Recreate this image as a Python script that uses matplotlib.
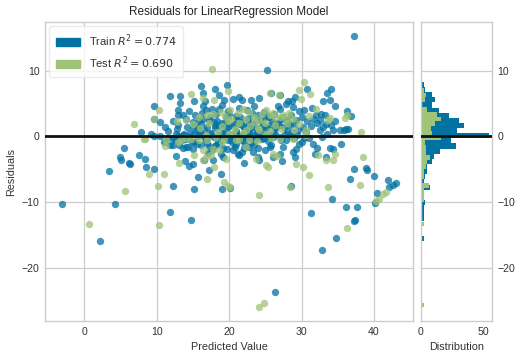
import numpy as np
import matplotlib
matplotlib.use("Agg")
import matplotlib.pyplot as plt
from matplotlib.patches import Patch

plt.rcParams['font.family'] = ['Liberation Sans', 'DejaVu Sans']
plt.rcParams['axes.unicode_minus'] = True

TITLE = "Residuals for LinearRegression Model"
train_r2 = 0.774
test_r2 = 0.690
x_ticks = [0, 10, 20, 30, 40]
y_ticks = [-20, -10, 0, 10]
hist_ticks = [0, 50]

# (predicted value, residual) — training set
train_points = [
    (37.19, 15.30), (25.21, 10.10), (16.13, 7.58), (19.72, 7.73), (18.06, 7.22), (16.36, 6.57),
    (11.80, 6.16), (13.23, 6.16), (15.12, 5.40), (13.27, 5.05), (16.68, 5.30), (18.66, 6.21),
    (19.35, 5.45), (21.43, 5.96), (21.75, 5.56), (23.00, 5.45), (24.19, 5.86), (25.81, 6.57),
    (26.96, 6.21), (28.11, 5.30), (28.66, 5.35), (29.12, 5.96), (30.69, 7.22), (33.50, 6.57),
    (34.10, 7.22), (32.95, 5.35), (33.96, 5.45), (34.65, 4.55), (36.31, 3.84), (36.87, 3.08),
    (9.68, 4.65), (12.90, 3.94), (13.69, 3.18), (15.25, 3.18), (16.82, 4.04), (16.36, 4.65),
    (18.66, 4.19), (21.43, 4.34), (25.12, 3.18), (26.73, 4.55), (28.89, 4.44), (30.32, 3.94),
    (32.03, 3.18), (32.49, 2.42), (32.72, 3.43), (33.41, 1.92), (34.01, 1.77), (36.41, 1.16),
    (35.81, 0.91), (9.68, 2.68), (10.46, 2.17), (7.83, 0.61), (9.22, 0.40), (11.52, 0.81),
    (12.67, 0.40), (13.59, 0.15), (14.98, 1.41), (15.90, 2.42), (15.67, 1.41), (17.28, 2.42),
    (17.97, 2.17), (18.66, 1.52), (19.59, 1.16), (20.28, 1.67), (20.97, 2.42), (21.43, 1.92),
    (22.12, 1.41), (23.04, 1.41), (23.73, 2.42), (24.42, 1.41), (25.58, 1.67), (26.50, 1.41),
    (27.88, 2.42), (28.34, 1.67), (30.18, 1.41), (30.65, 0.66), (32.76, -0.10), (34.33, 0.91),
    (35.25, 0.91), (36.18, 1.06), (9.68, 0.00), (12.21, -0.20), (13.13, -0.10), (14.06, -0.35),
    (16.82, -0.35), (19.59, -0.10), (20.51, 0.15), (22.35, -0.10), (24.19, -0.10), (26.04, -0.10),
    (5.53, -1.77), (4.93, -3.13), (5.07, -3.54), (6.22, -3.99), (6.31, -4.24), (7.51, -2.88),
    (8.43, -3.38), (8.53, -4.65), (9.68, -4.90), (3.46, -5.30), (12.21, -1.36), (12.67, -3.03),
    (14.29, -1.62), (13.13, -1.36), (14.06, -1.62), (14.98, -1.87), (16.13, -1.36), (17.05, -2.53),
    (18.20, -1.36), (18.89, -2.63), (19.12, -3.13), (19.68, -1.87), (20.51, -2.12), (21.20, -2.63),
    (21.43, -2.88), (22.81, -1.62), (23.27, -2.37), (23.96, -3.13), (24.19, -3.64), (25.58, -1.62),
    (26.04, -3.13), (26.96, -2.63), (29.17, -1.87), (29.03, -3.13), (28.89, -2.42), (31.57, -1.21),
    (31.80, -2.63), (33.87, -1.77), (34.33, -1.87), (35.48, -1.11), (33.32, -3.13), (37.19, -5.00),
    (38.94, -4.80), (39.03, -5.15), (40.00, -6.06), (36.73, -6.41), (41.94, -6.67), (43.09, -7.07),
    (42.63, -7.42), (40.46, -8.54), (42.03, -7.68), (15.71, -6.16), (17.28, -5.15), (18.89, -5.66),
    (14.98, -4.14), (14.52, -4.49), (16.59, -3.64), (12.21, -7.53), (15.12, -8.03), (19.03, -7.93),
    (28.57, -7.53), (34.24, -9.55), (20.14, -7.78),
    (-3.13, -10.20), (4.19, -10.20), (2.12, -15.81), (11.80, -11.41), (14.78, -12.63),
    (36.13, -10.66), (37.65, -10.66), (31.29, -11.57), (37.19, -12.83), (37.37, -12.63),
    (34.75, -15.35), (32.81, -17.32), (26.31, -23.69), (40.09, -10.10),
]

# training points inside the dense central cluster (estimated from density and histogram)
train_cluster = [
    (19.0, 0.5), (19.8, -0.5), (20.5, -1.0), (21.0, 0.8), (21.8, -0.6), (22.5, 0.3), (23.2, -0.8),
    (23.8, 0.6), (24.6, -0.4), (25.3, 0.2), (20.2, 0.2), (18.5, -0.8), (17.5, 0.3), (16.0, 0.6),
    (15.2, -0.8), (14.6, 0.5), (21.5, 3.0), (22.8, 2.8), (24.0, 3.3), (19.5, 3.0), (18.0, -1.5),
    (22.0, -1.8), (26.0, 0.5), (27.2, -0.6), (28.0, 0.8), (29.0, -0.3), (20.8, -1.6), (23.5, -1.3),
    (25.0, -2.0), (17.0, -1.0), (16.5, 1.0), (26.8, 2.0), (29.5, 1.0), (31.0, -0.2), (13.5, -0.6),
    (11.0, -0.8), (10.5, 0.1), (18.2, 3.4), (27.5, 3.0), (30.8, 2.3), (21.2, -0.2), (22.2, 0.9),
    (24.9, 1.0), (19.3, 1.9), (17.7, -2.0),
    (20.5, 5.6), (19.0, 4.8), (23.5, 4.6), (27.8, 4.9),
    (14.5, 3.9), (17.6, 4.1), (19.9, 3.8), (22.4, 4.0), (24.8, 3.7), (27.0, 4.2), (29.6, 3.9), (31.5, 4.3),
    (13.0, 3.2), (16.2, 3.5), (17.4, 2.9), (20.0, 3.4), (21.0, 3.1), (23.1, 3.5), (25.5, 2.9),
    (26.2, 3.4), (28.6, 3.2), (30.1, 3.0), (33.2, 3.3),
    (12.2, 2.3), (14.0, 2.6), (15.0, 2.2), (16.4, 2.7), (18.3, 2.4), (19.0, 2.1), (19.8, 2.6),
    (21.6, 2.2), (22.5, 2.7), (23.2, 2.1), (24.3, 2.5), (25.0, 2.8), (25.9, 2.3), (27.1, 2.6),
    (28.2, 2.2), (29.3, 2.5), (31.6, 2.7), (32.2, 2.1), (34.6, 2.4),
    (11.2, 1.5), (13.0, 1.8), (14.2, 1.4), (16.1, 1.9), (17.0, 1.5), (18.0, 1.8), (19.9, 1.4),
    (20.7, 1.9), (21.9, 1.6), (22.7, 1.9), (23.6, 1.5), (24.7, 1.8), (25.2, 1.3), (26.9, 1.7),
    (27.6, 1.4), (29.0, 1.9), (31.3, 1.6), (33.0, 1.4),
    (12.8, 1.1), (15.5, 0.9), (18.1, 1.2), (20.9, 0.7), (22.9, 1.1), (24.0, 0.8), (26.4, 1.2),
    (28.7, 0.6), (32.5, 1.0),
    (11.5, -0.2), (12.9, 0.1), (13.8, 0.4), (14.4, -0.1), (15.1, 0.3), (15.7, 0.0), (16.3, 0.2),
    (16.9, -0.25), (17.3, 0.45), (17.9, -0.15), (18.4, 0.25), (18.8, 0.05), (19.2, 0.35),
    (19.6, -0.2), (20.0, 0.1), (20.4, 0.4), (20.8, -0.1), (21.1, 0.3), (21.5, 0.0), (21.9, 0.2),
    (22.3, -0.25), (22.7, 0.45), (23.0, -0.15), (23.4, 0.25), (23.9, 0.05), (24.4, 0.35),
    (24.8, -0.2), (25.6, 0.1), (26.3, 0.4), (27.0, -0.1), (27.7, 0.3), (28.5, 0.0), (29.4, 0.2),
    (30.4, -0.25), (33.5, 0.4),
    (12.5, -0.5), (14.8, -0.9), (16.6, -0.4), (18.9, -0.7), (20.3, -0.5), (22.0, -0.9),
    (23.7, -0.4), (25.4, -0.7), (27.9, -0.5), (30.0, -0.9),
    (11.8, -1.3), (13.6, -1.7), (15.6, -1.2), (17.2, -1.5), (19.2, -1.8), (20.9, -1.2),
    (22.5, -1.5), (24.0, -1.8), (25.8, -1.3), (27.4, -1.6), (29.7, -1.2), (32.2, -1.7),
    (21.8, -2.3), (13.9, -3.8), (17.8, -3.6), (22.1, -4.0), (27.3, -3.7),
]

# (predicted value, residual) — test set
test_points = [
    (17.60, 10.25), (14.75, 6.36), (16.36, 5.86), (17.97, 5.45), (19.91, 6.82), (25.58, 6.57),
    (26.87, 6.21), (30.32, 8.33), (31.20, 6.46), (29.59, 6.97), (29.95, 5.71), (10.37, 4.04),
    (9.68, 2.68), (6.91, 1.92), (12.76, 2.32), (14.06, 2.42), (14.98, 1.92), (15.90, 2.93),
    (17.74, 3.43), (18.89, 3.69), (20.05, 4.04), (20.28, 2.68), (21.89, 4.19), (22.35, 2.68),
    (22.81, 3.69), (24.19, 2.42), (25.12, 3.94), (25.58, 3.18), (26.27, 2.93), (26.96, 2.93),
    (27.88, 2.68), (28.80, 2.68), (29.72, 1.92), (30.65, 1.01), (32.03, 4.19), (33.64, 2.53),
    (33.87, 2.78), (35.94, 2.78), (36.27, 3.18), (38.25, 0.66), (8.20, -0.35), (8.43, -0.45),
    (11.29, -0.61), (11.20, -1.52), (12.90, -0.86), (14.06, -0.20), (14.75, -0.35), (15.90, -0.61),
    (16.82, 0.15), (18.20, -0.10), (19.35, -0.35), (20.51, 0.40), (21.43, -0.35), (22.35, 0.91),
    (22.81, -0.61), (24.19, 0.91), (25.12, 0.40), (26.96, -0.35), (28.80, -0.35), (30.65, 0.15),
    (16.36, -2.02), (17.74, -1.87), (16.82, -3.13), (17.51, -2.88), (18.66, -2.12), (15.21, -2.88),
    (19.59, -3.38), (22.35, -1.62), (23.73, -3.38), (26.04, -2.63), (26.59, -3.03), (25.12, -4.39),
    (25.35, -4.65), (29.26, -4.14), (30.18, -4.65), (31.01, -5.91), (32.26, -2.78), (33.41, -3.64),
    (34.56, -2.63), (34.33, -3.64), (38.48, -3.13), (8.99, -5.66), (10.97, -5.66), (13.13, -4.04),
    (16.36, -3.64), (17.97, -4.65), (19.35, -6.92), (19.82, -7.53), (20.14, -7.68), (10.14, -7.58),
    (5.62, -8.28), (24.19, -8.94), (28.34, -7.68), (33.64, -7.68), (38.11, -7.42), (41.71, -8.43),
    (41.24, -8.69), (0.60, -13.23), (10.28, -13.38), (36.27, -13.84), (40.65, -9.44), (40.32, -9.80),
    (24.10, -25.96), (24.79, -25.25), (16.90, -6.40),
]

test_cluster = [
    (17.0, 3.3), (19.4, 3.1), (21.2, 3.5), (23.5, 3.0), (24.6, 3.4), (26.0, 3.6), (27.4, 3.2),
    (28.3, 3.5), (31.0, 3.1),
    (16.0, 1.2), (17.2, 2.0), (18.5, 0.6), (19.0, 1.6), (19.8, 2.3), (20.8, 1.1), (21.3, 2.0),
    (21.9, 0.5), (22.9, 1.6), (23.4, 2.2), (24.0, 1.3), (24.9, 2.0), (25.6, 0.8), (26.3, 1.7),
    (27.2, 1.1), (28.0, 2.1), (29.0, 1.0), (20.0, 0.4),
    (17.0, -0.6), (19.0, -0.8), (21.0, -0.5), (23.8, -0.7), (25.8, -0.3), (13.3, -0.5),
]

TRAIN_COLOR = "#0272a2"
TEST_COLOR = "#9fc377"
LINE_COLOR = "#111111"
GRID_COLOR = "#cccccc"
TEXT_COLOR = "#333333"

train = np.array(train_points + train_cluster)
test = np.array(test_points + test_cluster)

fig = plt.figure(figsize=(5.23, 3.59), dpi=100)
ax = fig.add_axes([45 / 523, 38 / 359, 368 / 523, 299 / 359])
hax = fig.add_axes([421 / 523, 38 / 359, 71 / 523, 299 / 359], sharey=ax)

for a in (ax, hax):
    a.set_facecolor("white")
    a.set_axisbelow(True)
    a.grid(True, color=GRID_COLOR, lw=0.9)
    for s in a.spines.values():
        s.set_color(GRID_COLOR)
        s.set_linewidth(1.0)
    a.tick_params(length=0, labelsize=7.6, colors=TEXT_COLOR, pad=4)

ax.scatter(train[:, 0], train[:, 1], c=TRAIN_COLOR, alpha=0.75, s=28, linewidths=0, zorder=2)
ax.scatter(test[:, 0], test[:, 1], c=TEST_COLOR, alpha=0.75, s=28, linewidths=0, zorder=2)
ax.axhline(0, color=LINE_COLOR, lw=2.0, zorder=3)

hax.hist(train[:, 1], bins=50, orientation="horizontal", color=TRAIN_COLOR, zorder=2)
hax.hist(test[:, 1], bins=50, orientation="horizontal", color=TEST_COLOR, zorder=2)
hax.axhline(0, color=LINE_COLOR, lw=2.0, zorder=3)
hax.grid(False, axis="x")
hax.yaxis.tick_right()
hax.tick_params(axis="y", labelleft=False, labelright=True)
hax.set_xticks(hist_ticks)

ax.set_xticks(x_ticks)
ax.set_yticks(y_ticks)

ax.set_title(TITLE, fontsize=8.5, color="#222222", pad=5)
ax.set_xlabel("Predicted Value", fontsize=7.8, color=TEXT_COLOR, labelpad=4)
ax.set_ylabel("Residuals", fontsize=7.8, color=TEXT_COLOR, labelpad=4)
hax.set_xlabel("Distribution", fontsize=7.8, color=TEXT_COLOR, labelpad=4)

handles = [Patch(color=TRAIN_COLOR), Patch(color=TEST_COLOR)]
labels = [r"Train $R^2 = {:0.3f}$".format(train_r2), r"Test $R^2 = {:0.3f}$".format(test_r2)]
leg = ax.legend(handles, labels, loc="upper left", frameon=True, fontsize=8.0,
                facecolor="white", edgecolor="#e6e6e6", framealpha=0.8,
                borderaxespad=0.4, handlelength=2.2, borderpad=0.55)
for t in leg.get_texts():
    t.set_color(TEXT_COLOR)

fig.savefig("out.png", dpi=100)
